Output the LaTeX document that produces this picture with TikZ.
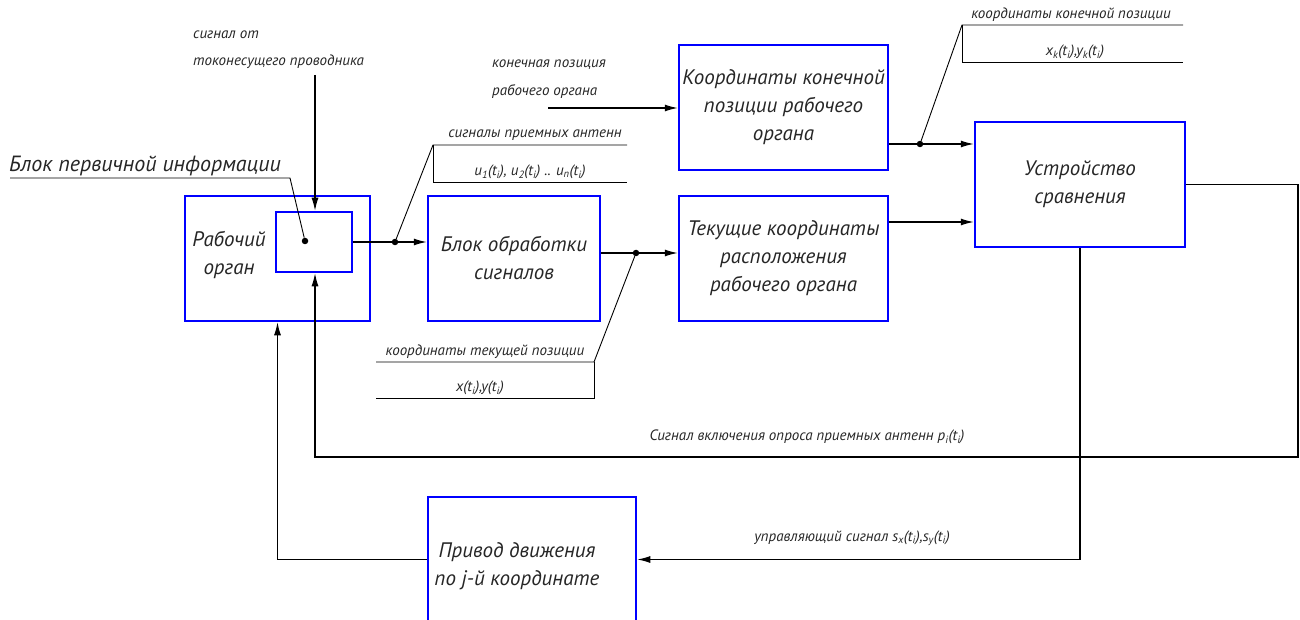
\documentclass[tikz,border=0pt]{standalone}
\usepackage{fontspec}
\setmainfont{PT Sans}
\usetikzlibrary{arrows.meta}
\newcommand\BoxFont{\fontsize{21}{28}\selectfont\itshape}
\newcommand\BigLabFont{\fontsize{22}{28}\selectfont\itshape}
\newcommand\LabFont{\fontsize{15}{18}\selectfont\itshape}
\begin{document}
\begin{tikzpicture}[x=1pt,y=-1pt,
  bx/.style={draw={rgb,255:red,0;green,0;blue,255}, line width=2.5pt, inner sep=0pt, align=center, font=\BoxFont, text=black!85},
  txt/.style={inner sep=0pt, align=center, font=\BoxFont, text=black!85},
  lab/.style={inner sep=0pt, font=\LabFont, text=black!85},
  arr/.style={line width=1.2pt, -{Latex[length=13pt,width=7pt]}},
  thin/.style={line width=0.9pt},
  dot/.style={circle, fill=black, inner sep=0pt, minimum size=6.5pt}]
\useasboundingbox (0,0) rectangle (1300,620);
% boxes
\node[bx, minimum width=185pt, minimum height=125pt] (ro) at (277.5,258.5) {};
\node[txt] (rot) at (229,255) {Рабочий\\орган};
\node[bx, minimum width=76pt, minimum height=60pt] (ib) at (314,242) {};
\node[bx, minimum width=172pt, minimum height=125pt] (bos) at (514,258.5) {Блок обработки\\сигналов};
\node[bx, minimum width=209pt, minimum height=125pt] (tk) at (783.5,258.5) {Текущие координаты\\расположения\\рабочего органа};
\node[bx, minimum width=209pt, minimum height=125pt] (kk) at (783.5,107.5) {Координаты конечной\\позиции рабочего\\органа};
\node[bx, minimum width=210pt, minimum height=125pt] (us) at (1080,184.5) {Устройство\\сравнения};
\node[bx, minimum width=208pt, minimum height=125pt] (pd) at (532,559.5) {};
\node[txt] (pdt) at (517,566) {Привод движения\\по j-й координате};
% junction points
\node[dot] (d1) at (395,242) {};
\node[dot] (d2) at (636,253) {};
\node[dot] (d3) at (920,144) {};
\node[dot] (d0) at (305,241) {};
\coordinate (tin) at (315,75);
\coordinate (kin) at (548,108);
\coordinate (c222) at (900,222);
\coordinate (fbR) at (1298,457);
\coordinate (fbL) at (315,457);
% connectors
\draw[arr] (ib.east |- d1) -- (bos.west |- d1);
\draw[arr] (bos.east |- d2) -- (tk.west |- d2);
\draw[arr] (kin) -- (kin -| kk.west);
\draw[arr] (kk.east |- d3) -- (us.west |- d3);
\draw[arr] (tk.east |- c222) -- (us.west |- c222);
\draw[arr] (tin) -- (tin |- ib.north);
\draw[arr] (us.east) -| (fbR) -- (fbL) -- (fbL |- ib.south);
\draw[arr] (us.south) |- (pd.east);
\draw[arr] (pd.west) -| (ro.south);
% leaders and shelves
\coordinate (b1) at (10,178); \coordinate (b2) at (290,178);
\draw[thin] (b1) -- (b2) -- (d0);
\node[lab, font=\BigLabFont] (bpi) at (145,166) {Блок первичной информации};
\coordinate (s1a) at (433,145); \coordinate (s1b) at (627,145);
\coordinate (s1c) at (433,182); \coordinate (s1d) at (627,182);
\draw[thin] (d1) -- (s1a) -- (s1b);
\draw[thin] (s1a) -- (s1c) -- (s1d);
\node[lab] (l1) at (535,135) {сигналы приемных антенн};
\node[lab] (l1b) at (530,172) {u\textsubscript{1}(t\textsubscript{i}), u\textsubscript{2}(t\textsubscript{i}) .. u\textsubscript{n}(t\textsubscript{i})};
\coordinate (s2a) at (594,362); \coordinate (s2b) at (376,362);
\coordinate (s2c) at (594,398); \coordinate (s2d) at (376,398);
\draw[thin] (d2) -- (s2a) -- (s2b);
\draw[thin] (s2a) -- (s2c) -- (s2d);
\node[lab] (l2) at (485,352) {координаты текущей позиции};
\node[lab] (l2b) at (480,388) {x(t\textsubscript{i}),y(t\textsubscript{i})};
\coordinate (s3a) at (962,25); \coordinate (s3b) at (1183,25);
\coordinate (s3c) at (962,62); \coordinate (s3d) at (1183,62);
\draw[thin] (d3) -- (s3a) -- (s3b);
\draw[thin] (s3a) -- (s3c) -- (s3d);
\node[lab] (l3) at (1071,15) {координаты конечной позиции};
\node[lab] (l3b) at (1075,52) {x\textsubscript{k}(t\textsubscript{i}),y\textsubscript{k}(t\textsubscript{i})};
% other labels
\node[lab, anchor=west] (l4) at (193,35) {сигнал от};
\node[lab, anchor=west] (l5) at (193,62) {токонесущего проводника};
\node[lab, anchor=west] (l6) at (492,65) {конечная позиция};
\node[lab, anchor=west] (l7) at (492,92) {рабочего органа};
\node[lab] (l8) at (807,437) {Сигнал включения опроса приемных антенн p\textsubscript{i}(t\textsubscript{i})};
\node[lab] (l9) at (852,538) {управляющий сигнал s\textsubscript{x}(t\textsubscript{i}),s\textsubscript{y}(t\textsubscript{i})};
\end{tikzpicture}
\end{document}
